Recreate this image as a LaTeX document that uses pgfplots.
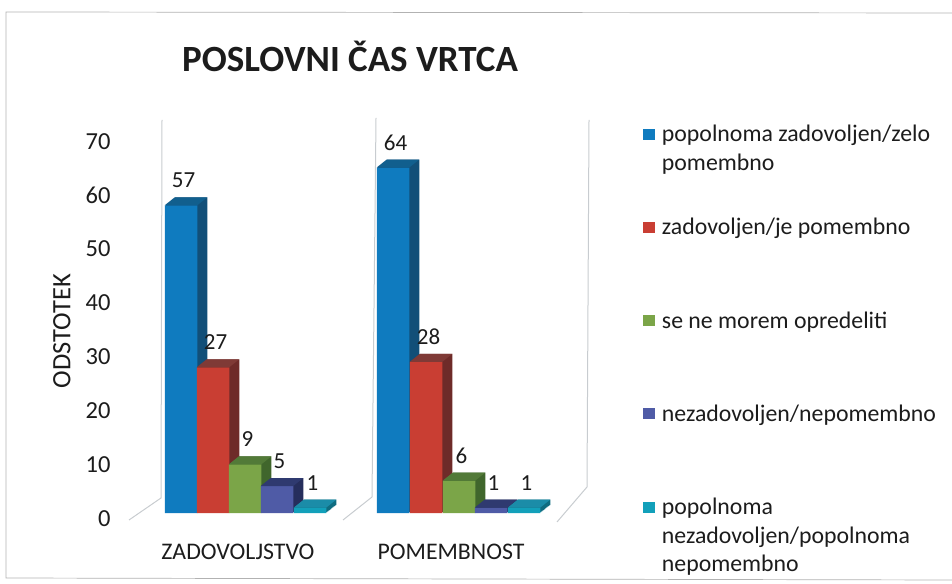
\documentclass[border=0pt]{standalone}
\usepackage{pgfplots}
\usepackage{pgfplotstable}
\usepackage{fontspec}
\setmainfont{Carlito}
\pgfplotsset{compat=1.18}

\pgfplotstableread{
x y
181 57
393 64
}\tblue
\pgfplotstableread{
x y
213 27
426 28
}\tred
\pgfplotstableread{
x y
245 9
459 6
}\tgreen
\pgfplotstableread{
x y
277 5
491 1
}\tpurple
\pgfplotstableread{
x y
310 1
524 1
}\tcyan

\definecolor{bluef}{HTML}{0F7BBF}\definecolor{blues}{HTML}{124F78}\definecolor{bluet}{HTML}{115F8E}
\definecolor{redf}{HTML}{C93E33}\definecolor{reds}{HTML}{6E2B29}\definecolor{redt}{HTML}{7F3A36}
\definecolor{greenf}{HTML}{7BA548}\definecolor{greens}{HTML}{40662C}\definecolor{greent}{HTML}{527A38}
\definecolor{purplef}{HTML}{4F5BA6}\definecolor{purples}{HTML}{262E5C}\definecolor{purplet}{HTML}{2F3A70}
\definecolor{cyanf}{HTML}{12A0BA}\definecolor{cyans}{HTML}{0F6C80}\definecolor{cyant}{HTML}{1B8CA8}
\definecolor{wall}{HTML}{C8CCD0}
\definecolor{txt}{HTML}{1C1C1C}

\pgfdeclareplotmark{topface}{%
  \pgfpathmoveto{\pgfqpoint{-16.25pt}{0pt}}%
  \pgfpathlineto{\pgfqpoint{16.25pt}{0pt}}%
  \pgfpathlineto{\pgfqpoint{26.25pt}{8pt}}%
  \pgfpathlineto{\pgfqpoint{-6.25pt}{8pt}}%
  \pgfpathclose\pgfusepathqfill}

% table, colour stem, legend text
\newcommand{\barseries}[3]{%
  \pgfplotsinvokeforeach{10,9,...,1}{%
    \addplot[ybar,bar width=32.5pt,draw=none,fill=#2s,xshift=##1pt,yshift=0.8*##1pt,forget plot] table[x=x,y=y]{#1};
  }
  \addplot[only marks,mark=topface,mark options={fill=#2t,draw=none},forget plot] table[x=x,y=y]{#1};
  \addplot[ybar,bar width=32.5pt,draw=none,fill=#2f,
    legend image code/.code={\fill[#2f] (0pt,-5.5pt) rectangle (12pt,5.5pt);},
    nodes near coords,
    nodes near coords style={anchor=center,yshift=25pt,xshift=2.5pt,text=txt,font=\fontsize{23}{26}\selectfont}
    ] table[x=x,y=y]{#1};
  \addlegendentry{\parbox[t]{275pt}{\raggedright #3}}
}

\begin{document}
\begin{tikzpicture}
  \begin{scope}[x=1pt,y=-1pt,shift={(0pt,583pt)}]
    \path[use as bounding box] (0,0) rectangle (952,583);
    \draw[gray!60,line width=0.7pt] (952,13) -- (6,12) -- (6,578) -- (952,580);
    \draw[wall,line width=1pt] (162,120) -- (161,498) -- (129,520);
    \draw[wall,line width=1pt] (376,118) -- (372,497) -- (343,520);
    \draw[wall,line width=1pt] (589,120) -- (587,487) -- (557,522);
  \end{scope}
  \begin{axis}[
    at={(0pt,0pt)},anchor=south west,
    scale only axis,width=952pt,height=583pt,
    xmin=0,xmax=952,ymin=-12.963,ymax=95.037,
    clip=false,
    axis line style={draw=none},
    tick style={draw=none},
    /pgf/number format/assume math mode=true,
    xtick={238,451},xticklabels={ZADOVOLJSTVO,POMEMBNOST},
    xticklabel style={yshift=42pt,font=\fontsize{23.8}{27}\selectfont,text=txt},
    ytick={0,10,...,70},
    yticklabel style={xshift=114pt,yshift=-6pt,anchor=east,font=\fontsize{24.5}{27}\selectfont,text=txt},
    ylabel={ODSTOTEK},
    every axis y label/.style={at={(rel axis cs:0.0651,0.4325)},rotate=90,anchor=center,font=\fontsize{26.5}{30}\selectfont,text=txt},
    title={POSLOVNI ČAS VRTCA},
    title style={at={(rel axis cs:0.3677,0.8925)},anchor=center,font=\fontsize{37}{42}\selectfont\bfseries,text=txt},
    legend style={at={(rel axis cs:0.672,0.7925)},anchor=north west,draw=none,fill=none,
      font=\fontsize{23.8}{28.5}\selectfont,text=txt,row sep=71.2pt,
      /tikz/every odd column/.append style={column sep=5pt}},
    legend cell align=left,
  ]
  \barseries{\tblue}{blue}{popolnoma zadovoljen/zelo\\pomembno}
  \barseries{\tred}{red}{zadovoljen/je pomembno}
  \barseries{\tgreen}{green}{se ne morem opredeliti}
  \barseries{\tpurple}{purple}{nezadovoljen/nepomembno}
  \barseries{\tcyan}{cyan}{popolnoma\\nezadovoljen/popolnoma\\nepomembno}
  \end{axis}
\end{tikzpicture}
\end{document}
